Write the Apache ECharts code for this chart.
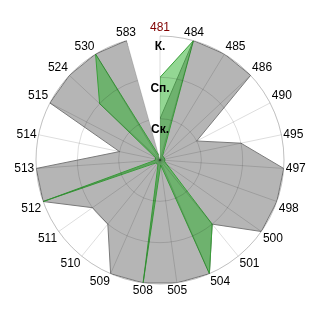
<!DOCTYPE html>
<html>
<head>
<meta charset="utf-8">
<script src="https://cdn.jsdelivr.net/npm/echarts@6/dist/echarts.min.js"></script>
<style>html,body{margin:0;padding:0;background:#fff}#c{width:320px;height:320px}</style>
</head>
<body>
<div id="c"></div>
<script>
var categories = ['481','484','485','486','490','495','497','498','500','501','504','505','508','509','510','511','512','513','514','515','524','530','583'];
var grayValues = [1,3,3,3,1,2,3,3,3,2,3,3,3,3,2,2,3,3,1,3,3,3,3];
var greenValues = [2,3,0.12,0.12,0.12,0.12,0.12,0.12,0.12,2,3,0.12,3,0.12,0.12,0.12,3,0.12,0.12,0.12,2,3,0.12];
var levelLabels = ['', 'Ск.', 'Сп.', 'К.'];

function closed(vals){
  var d = vals.map(function(v,i){return [v,i];});
  d.push([vals[0],0]);
  return d;
}

var gridColor = 'rgba(0,0,0,0.135)';
var chart = echarts.init(document.getElementById('c'), null, {renderer:'canvas'});
chart.setOption({
  animation:false,
  polar:{center:[160,160], radius:124},
  angleAxis:{
    type:'category',
    data:categories.map(function(c){return c==='481'?{value:c,textStyle:{color:'#800000'}}:c;}),
    startAngle:90,
    clockwise:true,
    boundaryGap:false,
    axisLine:{show:true,lineStyle:{color:gridColor,width:1}},
    axisTick:{show:false},
    axisLabel:{interval:0,margin:2,align:'center',verticalAlign:'middle',fontFamily:'Liberation Sans, Arial',fontSize:12,color:'#000'},
    splitLine:{show:true,lineStyle:{color:gridColor,width:1}},
    z:50
  },
  radiusAxis:{
    type:'value',min:0,max:3,interval:1,
    axisLine:{show:false},
    axisTick:{show:false},
    axisLabel:{
      margin:0,
      formatter:function(v){return levelLabels[Math.round(v)]||'';},
      align:'center',verticalAlign:'top',padding:[5,0,0,0],
      fontFamily:'Liberation Sans, Arial',fontSize:12,fontWeight:'bold',color:'#000'
    },
    splitLine:{show:true,lineStyle:{color:gridColor,width:1}},
    z:50
  },
  series:[
    {type:'line',coordinateSystem:'polar',data:closed(grayValues),symbol:'none',
     lineStyle:{color:'#7a7a7a',width:1},areaStyle:{color:'rgba(0,0,0,0.29)',opacity:1},z:2},
    {type:'line',coordinateSystem:'polar',data:closed(greenValues),symbol:'none',
     lineStyle:{color:'#3a9f3a',width:1},areaStyle:{color:'rgba(40,175,40,0.5)',opacity:1},z:3}
  ]
});
</script>
</body>
</html>
